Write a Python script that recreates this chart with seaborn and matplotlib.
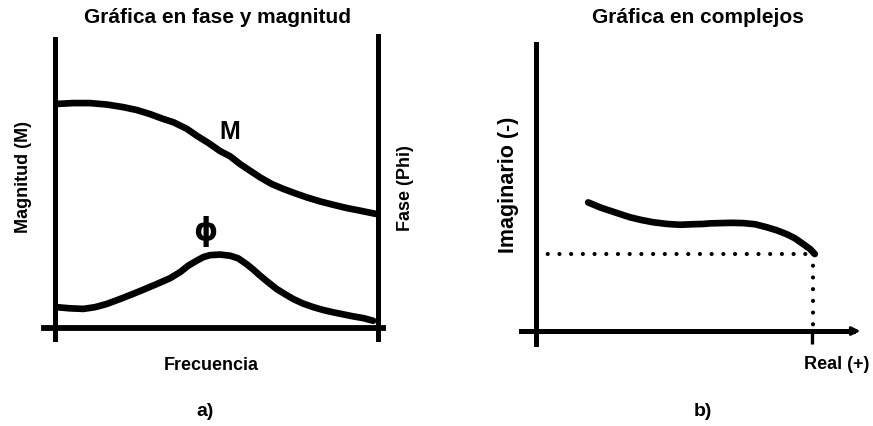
import pandas as pd
import seaborn as sns
import matplotlib.pyplot as plt

# Panel a) magnitude and phase vs frequency (arbitrary units, read off the sketch)
freq_m = [0.05, 0.57, 1.08, 1.60, 2.11, 2.53, 2.94, 3.35, 3.66, 4.08, 4.39, 4.75, 5.11,
          5.42, 5.73, 6.04, 6.35, 6.71, 7.07, 7.43, 7.79, 8.20, 8.62, 9.03, 9.44, 9.96]
mag = [7.75, 7.78, 7.78, 7.73, 7.64, 7.54, 7.40, 7.23, 7.12, 6.89, 6.65, 6.40, 6.12,
       5.94, 5.67, 5.44, 5.21, 4.98, 4.81, 4.66, 4.52, 4.38, 4.26, 4.15, 4.06, 3.94]
freq_p = [0.05, 0.46, 0.88, 1.24, 1.60, 2.01, 2.42, 2.79, 3.15, 3.56, 3.87, 4.13, 4.39,
          4.59, 4.80, 5.11, 5.42, 5.67, 5.93, 6.14, 6.35, 6.60, 6.86, 7.12, 7.38, 7.69,
          8.00, 8.31, 8.62, 8.93, 9.24, 9.55, 9.85]
phase = [0.72, 0.68, 0.66, 0.72, 0.83, 1.00, 1.18, 1.35, 1.52, 1.72, 1.93, 2.16, 2.33,
         2.45, 2.52, 2.54, 2.50, 2.41, 2.21, 2.02, 1.81, 1.58, 1.35, 1.17, 1.00, 0.84,
         0.72, 0.62, 0.54, 0.47, 0.40, 0.34, 0.25]

# Panel b) complex plane locus
real = [1.89, 2.32, 2.68, 3.04, 3.41, 3.83, 4.25, 4.74, 5.22, 5.70, 6.06, 6.30, 6.67,
        7.09, 7.51, 7.93, 8.36, 8.72, 9.08, 9.38, 9.68, 9.93, 10.1]
imag = [4.66, 4.48, 4.36, 4.24, 4.12, 4.02, 3.94, 3.88, 3.85, 3.87, 3.88, 3.90, 3.91,
        3.92, 3.91, 3.87, 3.76, 3.65, 3.51, 3.36, 3.15, 2.97, 2.79]

df_m = pd.DataFrame({'Frecuencia': freq_m, 'M': mag})
df_p = pd.DataFrame({'Frecuencia': freq_p, 'Phi': phase})
df_c = pd.DataFrame({'Real': real, 'Imag': imag})

sns.set_style('white')
plt.rcParams['font.family'] = ['Liberation Sans', 'DejaVu Sans']
plt.rcParams['font.weight'] = 'bold'
plt.rcParams['text.color'] = 'black'

fig = plt.figure(figsize=(8.73, 4.27), dpi=100)

# ---- a) ----
ax1 = fig.add_axes([0.0445, 0.1754, 0.407, 0.765])
sns.lineplot(data=df_m, x='Frecuencia', y='M', sort=False, color='black', lw=4.8,
             solid_capstyle='round', solid_joinstyle='round', ax=ax1)
sns.lineplot(data=df_p, x='Frecuencia', y='Phi', sort=False, color='black', lw=4.8,
             solid_capstyle='round', solid_joinstyle='round', ax=ax1)
ax1.set_xlim(-0.5, 10.5)
ax1.set_ylim(-0.8, 10.5)
ax1.set_xticks([])
ax1.set_yticks([])
ax1.set_xlabel('')
ax1.set_ylabel('')
ax1.spines['top'].set_visible(False)
ax1.spines['left'].set_position(('data', 0))
ax1.spines['left'].set_bounds(-0.38, 10.0)
ax1.spines['right'].set_position(('data', 10))
ax1.spines['right'].set_bounds(-0.38, 10.1)
ax1.spines['bottom'].set_position(('data', 0))
ax1.spines['bottom'].set_bounds(-0.34, 10.15)
for s in ['left', 'right']:
    ax1.spines[s].set_linewidth(3.6)
ax1.spines['bottom'].set_linewidth(4.2)
for s in ax1.spines.values():
    s.set_color('black')
ax1.patch.set_alpha(0)
ax1.text(5.42, 6.82, 'M', fontsize=18, fontweight='bold', ha='center', va='center')
ax1.text(4.64, 3.36, '\u03d5', fontsize=22, fontweight='bold', ha='center', va='center',
         family=['DejaVu Sans'])

# ---- b) ----
ax2 = fig.add_axes([0.5824, 0.1578, 0.411, 0.7756])
sns.lineplot(data=df_c, x='Real', y='Imag', sort=False, color='black', lw=4.8,
             solid_capstyle='round', solid_joinstyle='round', ax=ax2)
# dotted projections of the end point onto the axes
ax2.plot([0, real[-1]], [imag[-1], imag[-1]], color='black', lw=3,
         linestyle=(0, (0.01, 2.8)), dash_capstyle='round')
ax2.plot([real[-1] - 0.05, real[-1] - 0.05], [imag[-1], 0], color='black', lw=3,
         linestyle=(0, (0.01, 2.8)), dash_capstyle='round')
ax2.set_xlim(-1, 12)
ax2.set_ylim(-1, 11)
ax2.set_xticks([10])
ax2.set_xticklabels([''])
ax2.tick_params(axis='x', direction='out', length=9, width=2.4, color='black', bottom=True)
ax2.set_yticks([])
ax2.set_xlabel('')
ax2.set_ylabel('')
ax2.spines['top'].set_visible(False)
ax2.spines['right'].set_visible(False)
ax2.spines['left'].set_position(('data', 0))
ax2.spines['left'].set_bounds(-0.47, 10.4)
ax2.spines['bottom'].set_position(('data', 0))
ax2.spines['bottom'].set_bounds(-0.55, 11.5)
ax2.spines['left'].set_linewidth(3.6)
ax2.spines['bottom'].set_linewidth(3.6)
for s in ax2.spines.values():
    s.set_color('black')
ax2.patch.set_alpha(0)
ax2.annotate('', xy=(11.85, 0), xytext=(11.3, 0),
             arrowprops=dict(arrowstyle='-|>,head_length=0.5,head_width=0.25',
                             color='black', lw=2))

# ---- texts ----
fig.text(0.2497, 0.958, 'Gráfica en fase y magnitud', fontsize=15, fontweight='bold',
         ha='center', va='center')
fig.text(0.7995, 0.958, 'Gráfica en complejos', fontsize=15, fontweight='bold',
         ha='center', va='center')
fig.text(0.027, 0.5855, 'Magnitud (M)', fontsize=13, fontweight='bold', rotation=90,
         ha='center', va='center')
fig.text(0.464, 0.56, 'Fase (Phi)', fontsize=13, fontweight='bold', rotation=90,
         ha='center', va='center')
fig.text(0.2417, 0.1429, 'Frecuencia', fontsize=13, fontweight='bold', ha='center', va='center')
fig.text(0.235, 0.036, 'a)', fontsize=14, fontweight='bold', ha='center', va='center')
fig.text(0.583, 0.5667, 'Imaginario (-)', fontsize=15.5, fontweight='bold', rotation=90,
         ha='center', va='center')
fig.text(0.958, 0.1475, 'Real (+)', fontsize=13, fontweight='bold', ha='center', va='center')
fig.text(0.805, 0.036, 'b)', fontsize=14, fontweight='bold', ha='center', va='center')

fig.savefig('out.png', dpi=100)
